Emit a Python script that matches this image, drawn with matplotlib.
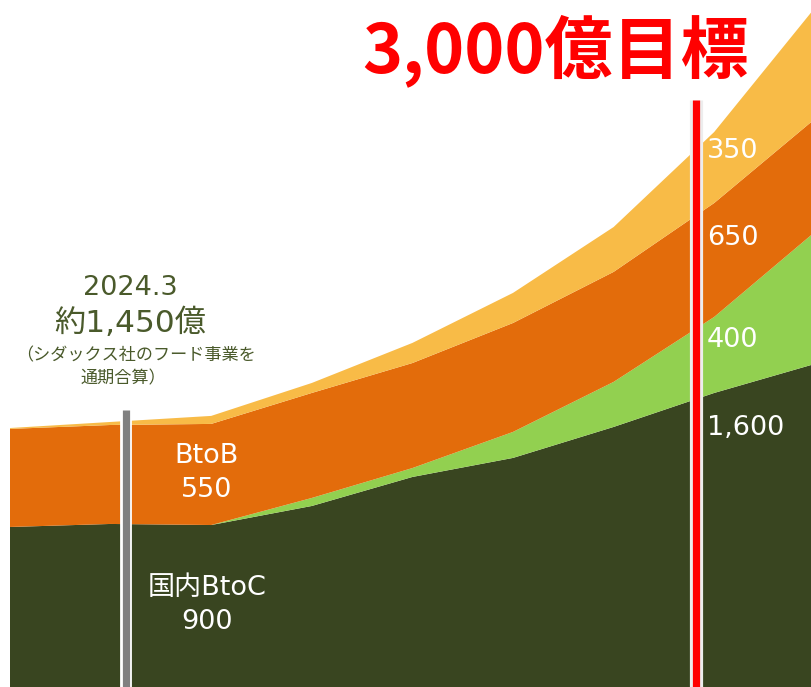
import matplotlib
matplotlib.use("Agg")
import matplotlib.pyplot as plt
import numpy as np

plt.rcParams['font.family'] = ['DejaVu Sans', 'Noto Sans CJK JP']

# fiscal-year points along the x axis (index positions)
years = ["2023.3", "2024.3", "2025.3", "2026.3", "2027.3", "2028.3", "2029.3", "2030.3", "2031.3"]
btoc_domestic = [899, 916, 910, 1017, 1180, 1287, 1461, 1652, 1815]
new_segment = [0, 0, 0, 45, 50, 146, 253, 427, 741]
btob = [551, 556, 568, 590, 590, 612, 618, 640, 635]
other = [5, 17, 45, 56, 113, 169, 252, 399, 624]

colors = ["#394520", "#92D050", "#E36C0B", "#F8BB47"]

W, H = 811, 687
S = 0.178  # px per unit
fig = plt.figure(figsize=(W / 100, H / 100), dpi=100)
ax = fig.add_axes([0, 0, 1, 1])
ax.set_axis_off()

x = np.arange(len(years))
ax.stackplot(x, btoc_domestic, new_segment, btob, other, colors=colors, linewidth=0)

ax.set_xlim(-10 / 100.6, (W - 10) / 100.6)
ax.set_ylim(0, H / S)

def vy(py):
    return (H - py) / S

# 2024.3 marker line (gray)
gx = (125.5 - 10) / 100.6
ax.plot([gx, gx], [0, vy(410)], color="white", lw=8.5, solid_capstyle="butt", zorder=5)
ax.plot([gx, gx], [0, vy(410)], color="#808080", lw=5.2, solid_capstyle="butt", zorder=6)

# 2030 target line (red)
rx = (695.5 - 10) / 100.6
ax.plot([rx, rx], [0, vy(100)], color="#EDEDED", lw=9.5, solid_capstyle="butt", zorder=5)
ax.plot([rx, rx], [0, vy(100)], color="#FF0000", lw=5.2, solid_capstyle="butt", zorder=6)

def ftxt(px, py, s, **kw):
    fig.text(px / W, 1 - py / H, s, **kw)

olive = "#4A5A2B"
ftxt(130, 295, "2024.3", fontsize=19.5, color=olive, ha="center", va="baseline")
ftxt(130, 332, "約1,450億", fontsize=22.5, color=olive, ha="center", va="baseline")
ftxt(136, 360, "（シダックス社のフード事業を", fontsize=12.3, color=olive, ha="center",
     va="baseline", family=["Noto Sans CJK JP"])
ftxt(123, 383, "通期合算）", fontsize=12.3, color=olive, ha="center", va="baseline",
     family=["Noto Sans CJK JP"])

ftxt(362, 72, "3,000億目標", fontsize=49, color="#FF0000", ha="left", va="baseline",
     fontweight="bold", family=["Noto Sans CJK JP"])

wkw = dict(fontsize=19.5, color="white", va="baseline", zorder=10)
ftxt(207, 463, "BtoB", ha="center", **wkw)
ftxt(207, 497, "550", ha="center", **wkw)
ftxt(207, 595, "国内BtoC", ha="center", **wkw)
ftxt(207, 629, "900", ha="center", **wkw)

ftxt(707, 158, "350", ha="left", **wkw)
ftxt(707, 245, "650", ha="left", **wkw)
ftxt(707, 347, "400", ha="left", **wkw)
ftxt(707, 435, "1,600", ha="left", **wkw)

fig.savefig("out.png", dpi=100)
